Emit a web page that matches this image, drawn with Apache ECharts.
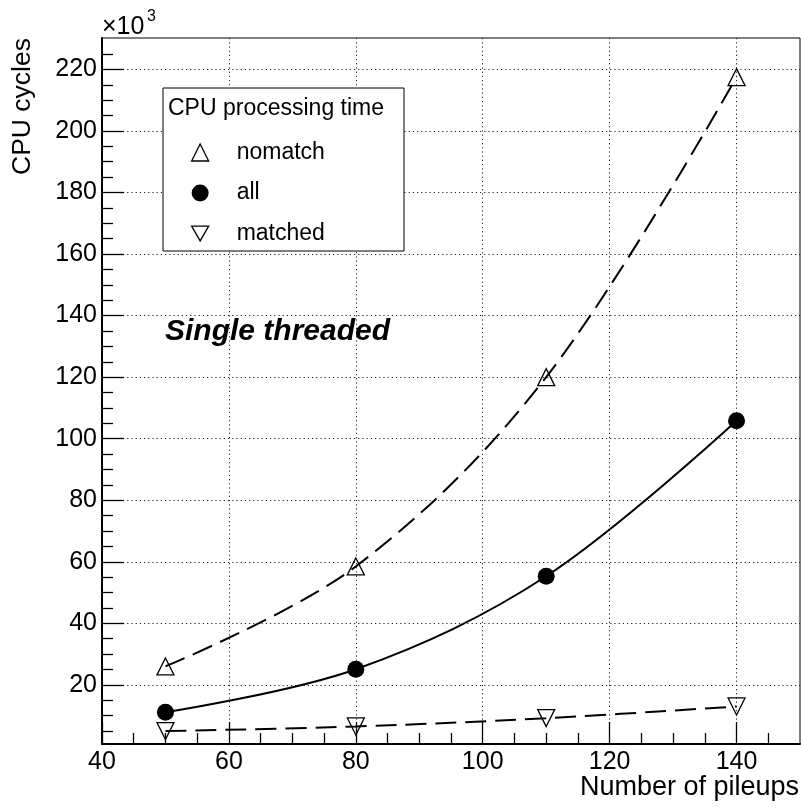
<!DOCTYPE html>
<html><head><meta charset="utf-8">
<script src="https://cdn.jsdelivr.net/npm/echarts@6/dist/echarts.min.js"></script>
<style>html,body{margin:0;padding:0;background:#fff}#c{width:801px;height:808px}</style>
</head><body><div id="c"></div>
<script>
// ---- data (CPU cycles, x10^3) ----
const pileups = [50, 80, 110, 140];
const nomatch = [26.0, 58.5, 120.0, 217.5];
const allEv   = [11.1, 25.1, 55.3, 105.8];
const matched = [5.0, 6.5, 9.2, 13.0];
// ---- ticks ----
const xTicks = [40, 60, 80, 100, 120, 140];
const xMinorTicks = [45, 50, 55, 65, 70, 75, 85, 90, 95, 105, 110, 115, 125, 130, 135, 145];
const yTicks = [20, 40, 60, 80, 100, 120, 140, 160, 180, 200, 220];
const yMinorTicks = [5, 10, 15, 25, 30, 35, 45, 50, 55, 65, 70, 75, 85, 90, 95, 105, 110, 115,
  125, 130, 135, 145, 150, 155, 165, 170, 175, 185, 190, 195, 205, 210, 215, 225];
const xRange = [40, 150];
const yRange = [0.8, 230.2];

const FONT = "'Liberation Sans', Arial, Helvetica, sans-serif";
const chart = echarts.init(document.getElementById('c'), null, {renderer: 'canvas'});

const pts = arr => pileups.map((x, i) => [x, arr[i]]);
const hollow = {color: 'rgba(255,255,255,0)', borderColor: '#000', borderWidth: 1.3};
const INV_TRI = 'path://M0,0L20,0L10,17.32Z';

const option = {
  animation: false,
  backgroundColor: '#fff',
  grid: {left: 102, top: 38, right: 1, bottom: 64, show: true, borderColor: '#000', borderWidth: 1, backgroundColor: 'transparent'},
  xAxis: [
    {type: 'value', min: xRange[0], max: xRange[1], position: 'bottom',
     axisLine: {show: true, onZero: false, lineStyle: {color: '#000', width: 2}},
     axisTick: {show: true, inside: true, length: 22, customValues: xTicks, lineStyle: {color: '#000', width: 1.3}},
     axisLabel: {show: true, customValues: xTicks, margin: 6, color: '#000', fontSize: 25, fontFamily: FONT},
     splitLine: {show: true, lineStyle: {color: '#222', width: 1, type: [1.2, 3]}}},
    {type: 'value', min: xRange[0], max: xRange[1], position: 'bottom',
     axisLine: {show: false},
     axisTick: {show: true, inside: true, length: 11, customValues: xMinorTicks, lineStyle: {color: '#000', width: 1.3}},
     axisLabel: {show: false}, splitLine: {show: false}}
  ],
  yAxis: [
    {type: 'value', min: yRange[0], max: yRange[1], position: 'left',
     axisLine: {show: true, onZero: false, lineStyle: {color: '#000', width: 2}},
     axisTick: {show: true, inside: true, length: 22, customValues: yTicks, lineStyle: {color: '#000', width: 1.3}},
     axisLabel: {show: true, customValues: yTicks, margin: 5, color: '#000', fontSize: 25, fontFamily: FONT},
     splitLine: {show: true, lineStyle: {color: '#222', width: 1, type: [1.2, 3]}}},
    {type: 'value', min: yRange[0], max: yRange[1], position: 'left',
     axisLine: {show: false},
     axisTick: {show: true, inside: true, length: 11, customValues: yMinorTicks, lineStyle: {color: '#000', width: 1.3}},
     axisLabel: {show: false}, splitLine: {show: false}}
  ],
  legend: {
    left: 191, top: 141, orient: 'vertical', padding: 0,
    itemWidth: 17, itemHeight: 17, itemGap: 17.5, z: 6,
    selectedMode: false,
    textStyle: {fontSize: 23, fontFamily: FONT, color: '#000', lineHeight: 17, padding: [0, 0, 0, 23]},
    data: [
      {name: 'nomatch', icon: 'triangle', itemStyle: hollow},
      {name: 'all', icon: 'circle', itemStyle: {color: '#000', borderWidth: 0}},
      {name: 'matched', icon: INV_TRI, itemStyle: hollow}
    ]
  },
  graphic: [
    {type: 'rect', z: 3, shape: {x: 163, y: 88, width: 241, height: 163}, style: {fill: '#fff', stroke: '#000', lineWidth: 1}},
    {type: 'text', z: 6, x: 168, y: 109, style: {text: 'CPU processing time', font: '23px ' + FONT, fill: '#000', textVerticalAlign: 'middle'}},
    {type: 'text', z: 6, x: 165, y: 332, style: {text: 'Single threaded', font: 'italic bold 30px ' + FONT, fill: '#000', textVerticalAlign: 'middle'}},
    {type: 'text', z: 6, x: 23, y: 38, rotation: Math.PI / 2, style: {text: 'CPU cycles', font: '26.5px ' + FONT, fill: '#000', textAlign: 'right', textVerticalAlign: 'middle'}},
    {type: 'text', z: 6, x: 799, y: 788, style: {text: 'Number of pileups', font: '27px ' + FONT, fill: '#000', textAlign: 'right', textVerticalAlign: 'middle'}},
    {type: 'text', z: 6, x: 102, y: 27, style: {text: '×10', font: '25px ' + FONT, fill: '#000', textVerticalAlign: 'middle'}},
    {type: 'text', z: 6, x: 147, y: 17, style: {text: '3', font: '16px ' + FONT, fill: '#000', textVerticalAlign: 'middle'}}
  ],
  series: [
    {type: 'line', name: 'nomatch', data: pts(nomatch), smooth: 0.35, symbol: 'triangle', symbolSize: 17,
     itemStyle: hollow, lineStyle: {color: '#000', width: 2, type: [21, 9]}, emphasis: {disabled: true}, z: 5},
    {type: 'line', name: 'all', data: pts(allEv), smooth: 0.35, symbol: 'circle', symbolSize: 17,
     itemStyle: {color: '#000'}, lineStyle: {color: '#000', width: 2}, emphasis: {disabled: true}, z: 5},
    {type: 'line', name: 'matched', data: pts(matched), smooth: 0.35, symbol: 'triangle', symbolRotate: 180, symbolSize: 17,
     itemStyle: hollow, lineStyle: {color: '#000', width: 2, type: [21, 9]}, emphasis: {disabled: true}, z: 5}
  ]
};
chart.setOption(option);
</script></body></html>
